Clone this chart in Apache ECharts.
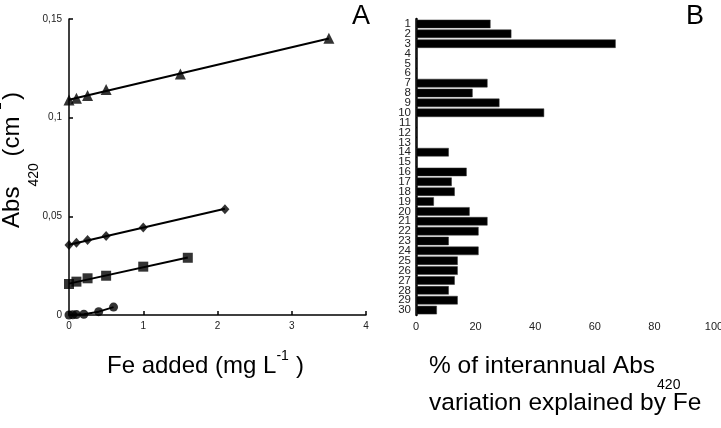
<!DOCTYPE html>
<html>
<head>
<meta charset="utf-8">
<script src="https://cdn.jsdelivr.net/npm/echarts@6/dist/echarts.min.js"></script>
<style>
  html, body { margin: 0; padding: 0; background: #fff; }
  #chart { width: 721px; height: 428px; }
</style>
</head>
<body>
<div id="chart"></div>
<script>
// --- panel A: Abs420 vs Fe added ---
const triX = [0, 0.1, 0.25, 0.5, 1.5, 3.5];
const triY = [0.1090, 0.1098, 0.1112, 0.1143, 0.1221, 0.1402];
const triFit = [[0, 0.1091], [3.5, 0.1401]];

const diaX = [0, 0.1, 0.25, 0.5, 1, 2.1];
const diaY = [0.0355, 0.0366, 0.0380, 0.0400, 0.0444, 0.0536];
const diaFit = [[0, 0.0356], [2.1, 0.0538]];

const sqX = [0, 0.1, 0.25, 0.5, 1, 1.6];
const sqY = [0.0157, 0.0169, 0.0186, 0.0199, 0.0245, 0.0290];
const sqFit = [[0, 0.0159], [1.6, 0.0291]];

const cirX = [0, 0.05, 0.1, 0.2, 0.4, 0.6];
const cirY = [0.0000, 0.0001, 0.0002, 0.0004, 0.0017, 0.0040];

// --- panel B: % explained by Fe, sites 1..30 ---
const sites = Array.from({ length: 30 }, (_, i) => String(i + 1));
const pctFe = [25, 32, 67, 0, 0, 0, 24, 19, 28, 43,
               0, 0, 0, 11, 0, 17, 12, 13, 6, 18,
               24, 21, 11, 21, 14, 14, 13, 11, 14, 7];

const FONT = "'Liberation Sans', Arial, sans-serif";

function pairs(xs, ys) {
  return xs.map((x, i) => [x, ys[i]]);
}

function pointSeries(xs, ys, symbol, size) {
  return {
    type: "scatter",
    xAxisIndex: 0,
    yAxisIndex: 0,
    data: pairs(xs, ys),
    symbol,
    symbolSize: size,
    itemStyle: { color: "#000" },
    z: 5,
  };
}

function fitSeries(data) {
  return {
    type: "line",
    xAxisIndex: 0,
    yAxisIndex: 0,
    data,
    showSymbol: false,
    lineStyle: { color: "#000", width: 2 },
    z: 4,
  };
}

const chart = echarts.init(document.getElementById("chart"), null, { renderer: "canvas" });

const axisLineStyle = { color: "#000", width: 1.5 };
const tickLabel = { color: "#222", fontSize: 10, fontFamily: FONT };

chart.setOption({
  animation: false,
  backgroundColor: "#fff",
  grid: [
    { left: 69, top: 19, width: 297, height: 296, outerBoundsMode: "none", containLabel: false },
    { left: 416, top: 19, width: 298, height: 296, outerBoundsMode: "none", containLabel: false },
  ],
  xAxis: [
    {
      gridIndex: 0, type: "value", min: 0, max: 4, interval: 1,
      axisLine: { lineStyle: axisLineStyle },
      axisTick: { inside: true, length: 4, lineStyle: axisLineStyle },
      axisLabel: { ...tickLabel, margin: 6 },
      splitLine: { show: false },
    },
    {
      gridIndex: 1, type: "value", min: 0, max: 100, interval: 20,
      axisLine: { lineStyle: axisLineStyle },
      axisTick: { inside: true, length: 4, lineStyle: axisLineStyle },
      axisLabel: { ...tickLabel, fontSize: 11, margin: 6 },
      splitLine: { show: false },
    },
  ],
  yAxis: [
    {
      gridIndex: 0, type: "value", min: 0, max: 0.15, interval: 0.05,
      axisLine: { show: true, lineStyle: axisLineStyle },
      axisTick: { show: true, inside: true, length: 4, lineStyle: axisLineStyle },
      axisLabel: {
        ...tickLabel, margin: 7,
        formatter: (v) => String(+v.toFixed(2)).replace(".", ","),
      },
      splitLine: { show: false },
    },
    {
      gridIndex: 1, type: "category", data: sites, inverse: true,
      axisLine: { show: true, lineStyle: { color: "#000", width: 2.5 } },
      axisTick: { show: false },
      axisLabel: { ...tickLabel, fontSize: 11.5, margin: 5, interval: 0 },
      splitLine: { show: false },
    },
  ],
  series: [
    fitSeries(triFit),
    fitSeries(diaFit),
    fitSeries(sqFit),
    {
      type: "line", xAxisIndex: 0, yAxisIndex: 0,
      data: pairs(cirX, cirY), showSymbol: false,
      lineStyle: { color: "#000", width: 2 }, z: 4,
    },
    pointSeries(triX, triY, "triangle", 11),
    pointSeries(diaX, diaY, "diamond", [9, 10]),
    pointSeries(sqX, sqY, "rect", 10),
    pointSeries(cirX, cirY, "circle", 9),
    {
      type: "bar", xAxisIndex: 1, yAxisIndex: 1,
      data: pctFe,
      barCategoryGap: "14%",
      itemStyle: { color: "#000", borderColor: "#333", borderWidth: 0.5 },
    },
  ],
  graphic: [
    // panel letters
    { type: "text", left: 352, top: 3, style: { text: "A", font: `27px ${FONT}`, fill: "#000" } },
    { type: "text", left: 686, top: 3, style: { text: "B", font: `27px ${FONT}`, fill: "#000" } },
    // y title of panel A (rotated)
    {
      type: "text", x: -16, y: 160, rotation: Math.PI / 2,
      style: {
        text: "{a|Abs}{sub|420}{a| (cm}{sup|-1}{a|)}",
        align: "center", verticalAlign: "top",
        rich: {
          a: { fontSize: 24, fontFamily: FONT, lineHeight: 57, color: "#000" },
          sub: { fontSize: 14, fontFamily: FONT, lineHeight: 14, verticalAlign: "bottom", color: "#000" },
          sup: { fontSize: 14, fontFamily: FONT, lineHeight: 14, verticalAlign: "top", color: "#000", padding: [6, 2, 0, 2] },
        },
      },
    },
    // x title of panel A
    {
      type: "text", x: 107, y: 349.5,
      style: {
        text: "{a|Fe added (mg L}{sup|-1}{b|)}",
        align: "left", verticalAlign: "top",
        rich: {
          a: { fontSize: 24, fontFamily: FONT, lineHeight: 33, color: "#000" },
          b: { fontSize: 24, fontFamily: FONT, lineHeight: 33, color: "#000", padding: [0, 0, 0, 7] },
          sup: { fontSize: 14, fontFamily: FONT, lineHeight: 14, verticalAlign: "top", color: "#000" },
        },
      },
    },
    // x title of panel B
    {
      type: "text", x: 429, y: 340,
      style: {
        text: "{a|% of interannual Abs}{sub|420}",
        align: "left", verticalAlign: "top",
        rich: {
          a: { fontSize: 24.5, fontFamily: FONT, lineHeight: 52, color: "#000" },
          sub: { fontSize: 14, fontFamily: FONT, lineHeight: 14, verticalAlign: "bottom", color: "#000", padding: [0, 0, 0, 2] },
        },
      },
    },
    {
      type: "text", x: 429, y: 403.5,
      style: {
        text: "variation explained by Fe",
        font: `24.5px ${FONT}`, fill: "#000",
        align: "left", verticalAlign: "middle",
      },
    },
  ],
});
</script>
</body>
</html>
